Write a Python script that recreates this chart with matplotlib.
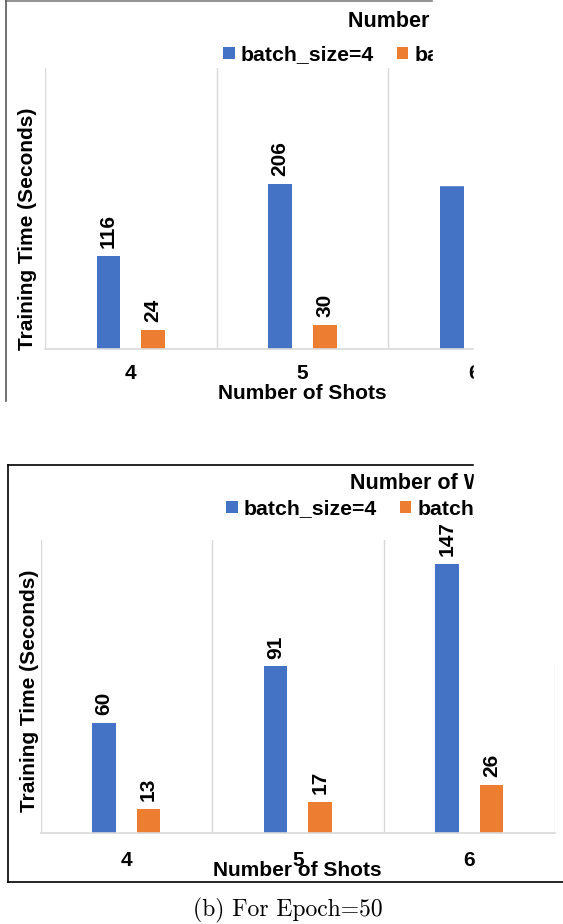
import numpy as np
import matplotlib
matplotlib.use("Agg")
import matplotlib.pyplot as plt
from matplotlib.patches import Rectangle
from matplotlib.lines import Line2D

plt.rcParams['font.family'] = ['Liberation Sans', 'DejaVu Sans']
plt.rcParams['font.weight'] = 'bold'

# Training time per number of shots
shots = ['4', '5', '6']
series_names = ['batch_size=4', 'batch_size=16']
time_top_bs4 = [116, 206, 205]
time_top_bs16 = [24, 30, 38]
time_bot_bs4 = [60, 91, 147]
time_bot_bs16 = [13, 17, 26]

BLUE = '#4472C4'
ORANGE = '#ED7D31'
GRID = '#D9D9D9'

W, H = 563, 924
fig = plt.figure(figsize=(W / 100, H / 100), dpi=100)


def fx(px):
    return px / W


def fy(py):
    return 1 - py / H


def draw_panel(x0, x1, y_top, y_base, ymax, bs4, bs16, tick_pad, xlab_y, ylab_x, ylab_y,
               title_xy, leg_xy):
    ax = fig.add_axes([fx(x0), fy(y_base), fx(x1) - fx(x0), (y_base - y_top) / H])
    x = np.arange(len(shots))
    b1 = ax.bar(x - 0.13, bs4, width=0.137, color=BLUE, label=series_names[0], zorder=2)
    b2 = ax.bar(x + 0.13, bs16, width=0.137, color=ORANGE, label=series_names[1], zorder=2)
    for bars in (b1, b2):
        for rect in bars:
            ax.annotate(f"{rect.get_height():g}",
                        (rect.get_x() + rect.get_width() / 2, rect.get_height()),
                        xytext=(0, 5.5), textcoords='offset points',
                        ha='center', va='bottom', rotation=90, fontsize=15,
                        fontweight='bold')
    ax.set_xlim(-0.5, 2.5)
    ax.set_ylim(0, ymax)
    for xv in [-0.5, 0.5, 1.5, 2.5]:
        ax.axvline(xv, color=GRID, lw=1, zorder=1)
    for s in ['top', 'right', 'left']:
        ax.spines[s].set_visible(False)
    ax.spines['bottom'].set_color(GRID)
    ax.spines['bottom'].set_linewidth(1.2)
    ax.set_yticks([])
    ax.set_xticks(x, shots)
    ax.tick_params(axis='x', length=0, pad=tick_pad, labelsize=15)
    for t in ax.get_xticklabels():
        t.set_fontweight('bold')
    ax.set_xlabel('Number of Shots', fontsize=15, fontweight='bold')
    ax.xaxis.set_label_coords(0.5, xlab_y)
    ax.set_ylabel('Training Time (Seconds)', fontsize=15, fontweight='bold')
    ax.yaxis.set_label_coords(ylab_x, ylab_y)
    fig.text(fx(title_xy[0]), fy(title_xy[1]), 'Number of Ways', fontsize=15.5,
             fontweight='bold', ha='left', va='center')
    ax.legend(ncol=2, loc='center left', bbox_to_anchor=(fx(leg_xy[0]), fy(leg_xy[1])),
              bbox_transform=fig.transFigure, frameon=False, fontsize=15.3,
              handlelength=0.55, handleheight=0.55, handletextpad=0.3,
              columnspacing=1.05, borderpad=0, borderaxespad=0)
    return ax


# upper chart
draw_panel(45, 560, 68, 349, 350, time_top_bs4, time_top_bs16, tick_pad=11,
           xlab_y=-0.125, ylab_x=-0.016, ylab_y=0.427,
           title_xy=(348, 21), leg_xy=(223, 55))
# lower chart
draw_panel(40.6, 555, 540, 832.7, 160, time_bot_bs4, time_bot_bs16, tick_pad=13,
           xlab_y=-0.095, ylab_x=-0.004, ylab_y=0.484,
           title_xy=(350, 483), leg_xy=(226, 509))

# chart frames
fig.add_artist(Line2D([fx(5.5), fx(433)], [fy(0.8), fy(0.8)], color='#7f7f7f', lw=1.2))
fig.add_artist(Line2D([fx(5.5), fx(5.5)], [fy(0), fy(401)], color='#595959', lw=1.2))
fig.add_artist(Line2D([fx(8), fx(563)], [fy(465), fy(465)], color='black', lw=1.2))
fig.add_artist(Line2D([fx(8), fx(8)], [fy(465), fy(882)], color='black', lw=1.2))
fig.add_artist(Line2D([fx(8), fx(563)], [fy(882), fy(882)], color='black', lw=1.2))

# cropped-away corners
for (xa, ya, xb, yb) in [(433, -2, 570, 185), (474, -2, 570, 403), (474, 463, 570, 664)]:
    fig.add_artist(Rectangle((fx(xa), fy(yb)), fx(xb) - fx(xa), (yb - ya) / H,
                             transform=fig.transFigure, color='white', zorder=10))

fig.text(fx(288), fy(910), '(b) For Epoch=50', family='cmr10', fontweight='normal',
         fontsize=17, ha='center', va='center')

fig.savefig('out.png', dpi=100)
